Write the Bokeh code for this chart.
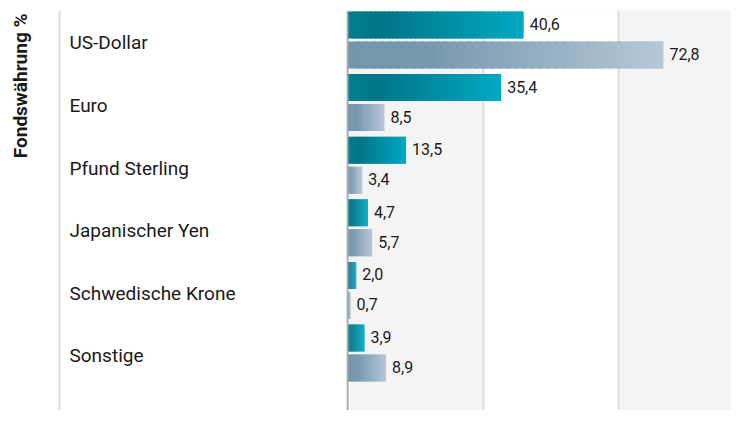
import math
import numpy as np
from bokeh.plotting import figure
from bokeh.layouts import row
from bokeh.models import Range1d, FixedTicker, BoxAnnotation, Span, ColumnDataSource
from bokeh.core.properties import value
from bokeh.embed import file_html
from bokeh.resources import INLINE

# ---- data ----
categories = ["US-Dollar", "Euro", "Pfund Sterling", "Japanischer Yen",
              "Schwedische Krone", "Sonstige"]
fund = [40.6, 35.4, 13.5, 4.7, 2.0, 3.9]
benchmark = [72.8, 8.5, 3.4, 5.7, 0.7, 8.9]
axis_title = "Fondswährung %"
grid_ticks = [31.25, 62.5]


def fmt(v):
    return f"{v:.1f}".replace(".", ",")


def hex2rgb(h):
    h = h.lstrip("#")
    return np.array([int(h[i:i + 2], 16) for i in (0, 2, 4)], dtype=float)


def grad_color(stops, t):
    for (t0, c0), (t1, c1) in zip(stops[:-1], stops[1:]):
        if t <= t1:
            f = (t - t0) / (t1 - t0) if t1 > t0 else 0
            c = hex2rgb(c0) * (1 - f) + hex2rgb(c1) * f
            return "#%02x%02x%02x" % tuple(int(round(x)) for x in c)
    return stops[-1][1]


TEAL = [(0.0, "#00808f"), (0.2, "#007587"), (1.0, "#00a9c3")]
GRAY = [(0.0, "#7496ad"), (0.25, "#7698af"), (1.0, "#b7c7d7")]

PITCH = 62.6
N = 40
BAR_H = 27 / PITCH
OFF = 15 / PITCH


def gradient_source(values, offset, stops):
    L, R, T, B, C = [], [], [], [], []
    for i, v in enumerate(values):
        yc = i + offset
        for k in range(N):
            L.append(v * k / N)
            R.append(v * min(k + 1.7, N) / N)
            T.append(yc - BAR_H / 2)
            B.append(yc + BAR_H / 2)
            C.append(grad_color(stops, (k + 0.5) / N))
    return ColumnDataSource(dict(left=L, right=R, top=T, bottom=B, color=C))


TOP = 10
H = 410
y_top = -0.471
y_range = Range1d(start=y_top + (H - TOP) / PITCH, end=y_top)

LW = 346
RW = 385
PXU = 4.34
x0 = -0.23
right = figure(width=RW, height=H, x_range=Range1d(x0, x0 + RW / PXU),
               y_range=y_range, output_backend="svg", toolbar_location=None,
               min_border_left=0, min_border_right=0, min_border_top=TOP,
               min_border_bottom=0)
right.axis.visible = False
right.outline_line_color = None
right.background_fill_color = "#f4f4f4"
right.border_fill_color = "white"
right.ygrid.visible = False
right.xgrid.ticker = FixedTicker(ticks=grid_ticks)
right.xgrid.grid_line_color = "#dedede"
right.xgrid.grid_line_width = 2
right.add_layout(BoxAnnotation(left=grid_ticks[0], right=grid_ticks[1],
                               fill_color="white", fill_alpha=1,
                               line_color=None, level="image"))

right.quad(left="left", right="right", top="top", bottom="bottom",
           source=gradient_source(fund, -OFF, TEAL),
           fill_color="color", line_color=None)
right.quad(left="left", right="right", top="top", bottom="bottom",
           source=gradient_source(benchmark, OFF, GRAY),
           fill_color="color", line_color=None)

idx = list(range(len(categories)))
lab = ColumnDataSource(dict(
    x=fund + benchmark,
    y=[i - OFF for i in idx] + [i + OFF for i in idx],
    t=[fmt(v) for v in fund] + [fmt(v) for v in benchmark]))
right.text(x="x", y="y", text="t", source=lab, x_offset=6, y_offset=-1,
           text_align="left", text_baseline="middle",
           text_font=value("Roboto"), text_font_size="16px",
           text_color="#1a1a1a")

right.add_layout(Span(location=0, dimension="height",
                      line_color="#a9a9a9", line_width=2))

# ---- left panel with category labels ----
left = figure(width=LW, height=H, x_range=Range1d(0, LW), y_range=y_range,
              output_backend="svg", toolbar_location=None,
              min_border_left=0, min_border_right=0, min_border_top=TOP,
              min_border_bottom=0)
left.axis.visible = False
left.grid.visible = False
left.outline_line_color = None
left.background_fill_color = "white"

left.text(x=69, y=idx, text=categories, text_align="left",
          text_baseline="middle", y_offset=3,
          text_font=value("Roboto"), text_font_size="19px",
          text_color="#1a1a1a")
left.add_layout(Span(location=59, dimension="height",
                     line_color="#dcdcdc", line_width=2))
left.text(x=[20], y=[y_top + 3 / PITCH], text=[axis_title], angle=math.pi / 2,
          text_align="right", text_baseline="middle",
          text_font=value("Roboto"), text_font_size="19px",
          text_font_style="bold", text_color="#1a1a1a")

layout = row(left, right)
open("out.html", "w").write(file_html(layout, INLINE))
